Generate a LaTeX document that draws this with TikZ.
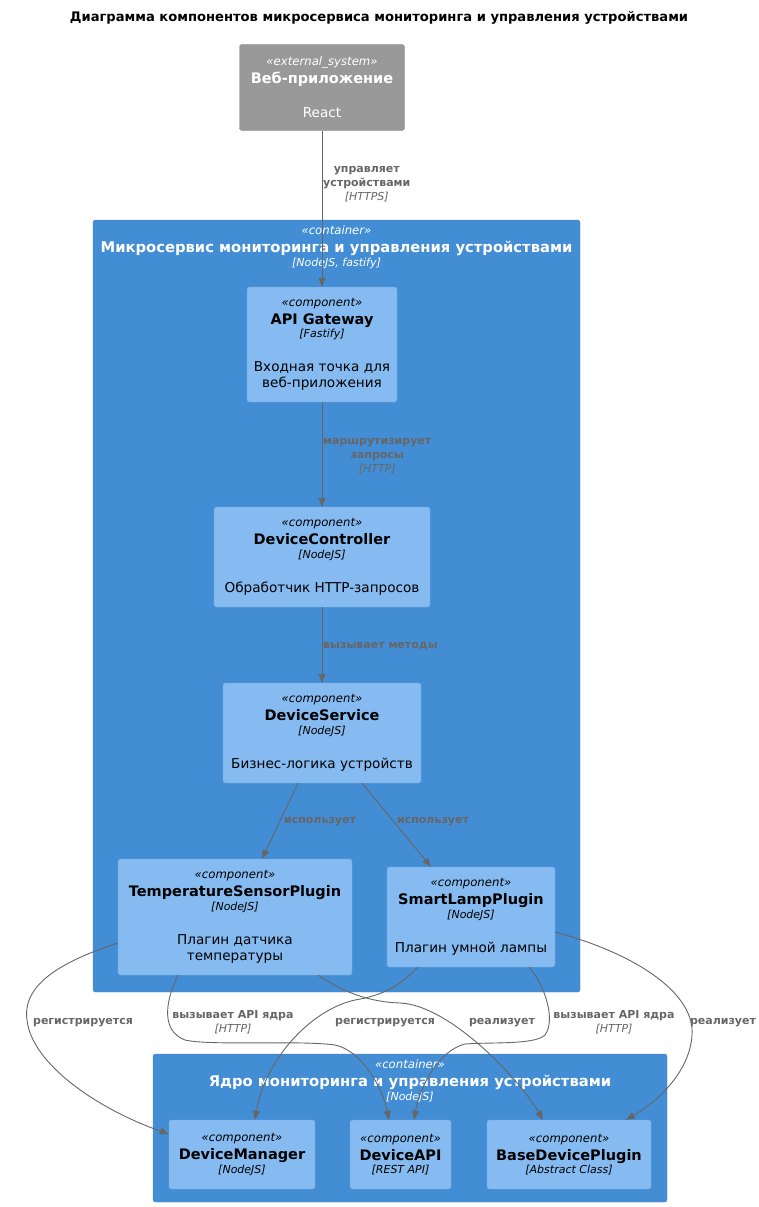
\documentclass[tikz,border=0pt]{standalone}
\usepackage{fontspec}
\setmainfont{DejaVu Sans}
\usetikzlibrary{positioning, calc, arrows.meta}

\definecolor{extfill}{HTML}{999999}
\definecolor{extline}{HTML}{8A8A8A}
\definecolor{contfill}{HTML}{438DD5}
\definecolor{contline}{HTML}{3C7FC0}
\definecolor{compfill}{HTML}{85BBF0}
\definecolor{compline}{HTML}{78A8D8}
\definecolor{relgray}{HTML}{666666}

\newcommand{\stfont}{\fontsize{11.7}{16}\selectfont\itshape}
\newcommand{\nmfont}{\fontsize{14.5}{16}\selectfont\bfseries}
\newcommand{\tcfont}{\fontsize{11}{16}\selectfont\itshape}
\newcommand{\dsfont}{\fontsize{13.6}{16}\selectfont}
\newcommand{\ctfont}{\fontsize{14.75}{16}\selectfont\bfseries}
\newcommand{\lbfont}{\fontsize{11}{14}\selectfont\bfseries}
\newcommand{\lbtech}{\fontsize{11}{14}\selectfont\mdseries\itshape}

\begin{document}
\begin{tikzpicture}[x=1pt, y=-1pt,
        ext/.style={rectangle, rounded corners=2.5pt, draw=extline, fill=extfill, text=white, align=center, inner sep=0pt, font=\fontsize{12}{16}\selectfont},
        cont/.style={rectangle, rounded corners=2.5pt, draw=contline, fill=contfill, inner sep=0pt},
        conttext/.style={text=white, align=center, inner sep=0pt, anchor=north, font=\fontsize{12}{16}\selectfont},
        comp/.style={rectangle, rounded corners=2.5pt, draw=compline, fill=compfill, text=black, align=center, inner sep=0pt, font=\fontsize{12}{16}\selectfont},
        rel/.style={draw=relgray, line width=0.9pt, -{Triangle[length=9pt, width=7pt]}},
        lbl/.style={text=relgray, align=center, inner sep=1pt, font=\lbfont}]
        \useasboundingbox (0,0) rectangle (758,1207);

        \node[font=\fontsize{13.1}{16}\selectfont\bfseries] (title) at (379,18) {Диаграмма компонентов микросервиса мониторинга и управления устройствами};

        % External web application
        \node[ext, minimum width=165, minimum height=86] (web) at (322,87.5) {\stfont «external\_system»\\[2pt] \nmfont Веб-приложение\\[18pt] \dsfont React};

        % Containers
        \node[cont, minimum width=487, minimum height=772] (ms) at (336.5,606) {};
        \node[conttext] (ms-title) at ([yshift=-5.5pt]ms.north) {\stfont «container»\\[2pt] \ctfont Микросервис мониторинга и управления устройствами\\[-2pt] \tcfont [NodeJS, fastify]};
        \node[cont, minimum width=514, minimum height=148] (core) at (410,1128) {};
        \node[conttext] (core-title) at ([yshift=-6pt]core.north) {\stfont «container»\\[2pt] \ctfont Ядро мониторинга и управления устройствами\\[-2pt] \tcfont [NodeJS]};

        % Components of the microservice
        \node[comp, minimum width=150, minimum height=115] (gw) at (322,344.5) {\stfont «component»\\[2pt] \nmfont API Gateway\\[-2.5pt] \tcfont [Fastify]\\[18pt] \dsfont Входная точка для\\ \dsfont веб-приложения};
        \node[comp, minimum width=216, minimum height=100] (dc) at (322,557) {\stfont «component»\\[2pt] \nmfont DeviceController\\[-2.5pt] \tcfont [NodeJS]\\[18pt] \dsfont Обработчик HTTP-запросов};
        \node[comp, minimum width=198, minimum height=100] (ds) at (322,733) {\stfont «component»\\[2pt] \nmfont DeviceService\\[-2.5pt] \tcfont [NodeJS]\\[18pt] \dsfont Бизнес-логика устройств};
        \node[comp, minimum width=234, minimum height=116] (ts) at (235,917) {\stfont «component»\\[2pt] \nmfont TemperatureSensorPlugin\\[-2.5pt] \tcfont [NodeJS]\\[18pt] \dsfont Плагин датчика\\ \dsfont температуры};
        \node[comp, minimum width=168, minimum height=100] (sl) at (471,917) {\stfont «component»\\[2pt] \nmfont SmartLampPlugin\\[-2.5pt] \tcfont [NodeJS]\\[18pt] \dsfont Плагин умной лампы};

        % Components of the core
        \node[comp, minimum width=146, minimum height=69] (dm) at (242,1154.5) {\stfont «component»\\[2pt] \nmfont DeviceManager\\[-2.5pt] \tcfont [NodeJS]};
        \node[comp, minimum width=101, minimum height=69] (da) at (400.5,1154.5) {\stfont «component»\\[2pt] \nmfont DeviceAPI\\[-2.5pt] \tcfont [REST API]};
        \node[comp, minimum width=164, minimum height=69] (bp) at (569,1154.5) {\stfont «component»\\[2pt] \nmfont BaseDevicePlugin\\[-2.5pt] \tcfont [Abstract Class]};

        % Straight relations
        \draw[rel] (web) -- (gw);
        \draw[rel] (gw) -- (dc);
        \draw[rel] (dc) -- (ds);
        \draw[rel] ([xshift=-24pt]ds.south) -- ([xshift=27pt]ts.north);
        \draw[rel] ([xshift=40pt]ds.south) -- ([xshift=-40pt]sl.north);

        \node[lbl, anchor=west] (l-web) at ($(web.south)!0.34!(gw.north)$) {управляет\\устройствами\\ \lbtech [HTTPS]};
        \node[lbl, anchor=west] (l-gw) at ($(gw.south)!0.514!(dc.north)$) {маршрутизирует\\запросы\\ \lbtech [HTTP]};
        \node[lbl, anchor=west] (l-dc) at ($(dc.south)!0.513!(ds.north)$) {вызывает методы};
        \node[lbl] (l-ts) at (320,822) {использует};
        \node[lbl] (l-sl) at (433,822) {использует};

        % Plugins to the core
        \draw[rel] ([yshift=-26pt]ts.west) .. controls (60,962) and (22,985) .. (27,1020) .. controls (32,1065) and (100,1110) .. ([yshift=20.5pt]dm.west);
        \draw[rel] ([xshift=-57pt]ts.south) .. controls (168,995) and (158,1030) .. (185,1040) .. controls (210,1046) and (300,1040) .. (335,1045) .. controls (360,1050) and (382,1085) .. ([xshift=-11.5pt]da.north);
        \draw[rel] ([xshift=83pt]ts.south) .. controls (345,993) and (370,1002) .. (400,1003) .. controls (450,1005) and (520,1080) .. ([xshift=-26pt]bp.north);
        \draw[rel] ([xshift=-53pt]sl.south) .. controls (400,985) and (385,995) .. (355,1000) .. controls (310,1010) and (265,1060) .. ([xshift=13pt]dm.north);
        \draw[rel] ([xshift=58pt]sl.south) .. controls (545,985) and (556,1020) .. (545,1035) .. controls (535,1045) and (490,1042) .. (465,1044) .. controls (440,1050) and (420,1085) .. ([xshift=13.5pt]da.north);
        \draw[rel] ([yshift=-15pt]sl.east) .. controls (640,955) and (695,995) .. (692,1035) .. controls (690,1070) and (660,1100) .. ([xshift=57pt]bp.north);

        \node[lbl] (l-ts-dm) at (83,1023) {регистрируется};
        \node[lbl] (l-ts-da) at (233,1022.5) {вызывает API ядра\\ \lbtech [HTTP]};
        \node[lbl] (l-sl-dm) at (385,1023) {регистрируется};
        \node[lbl] (l-ts-bp) at (502,1023) {реализует};
        \node[lbl] (l-sl-da) at (614,1022.5) {вызывает API ядра\\ \lbtech [HTTP]};
        \node[lbl] (l-sl-bp) at (723,1023) {реализует};
\end{tikzpicture}
\end{document}
